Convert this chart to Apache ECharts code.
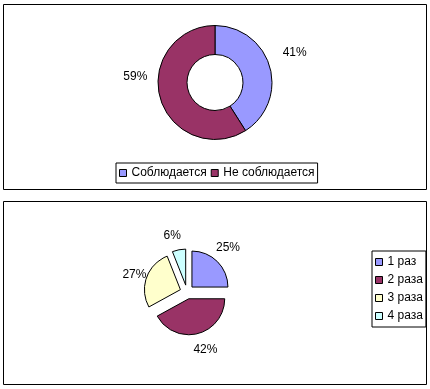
<!DOCTYPE html>
<html><head><meta charset="utf-8">
<script src="https://cdn.jsdelivr.net/npm/echarts@6/dist/echarts.min.js"></script>
<style>html,body{margin:0;padding:0;background:#fff}#c{width:430px;height:389px}</style>
</head><body><div id="c"></div>
<script>
// ---- data ----
const complianceCategories = ['Соблюдается', 'Не соблюдается'];
const complianceValues = [41, 59];
const frequencyCategories = ['1 раз', '2 раза', '3 раза', '4 раза'];
const frequencyValues = [25, 42, 27, 6];

// ---- styles ----
const complianceColors = ['#9999FF', '#993366'];
const frequencyColors = ['#9999FF', '#993366', '#FFFFCC', '#CCFFFF'];
const complianceLabelNudge = [[0, -7], [0, -29]];
const frequencyLabelNudge = [[0, -3], [4, 2], [2, 2], [-4, 1]];
const FONT = '"Liberation Sans", Arial, sans-serif';

const chart = echarts.init(document.getElementById('c'), null, {renderer: 'canvas'});

function nudge(arr) {
  return function (params) {
    const n = arr[params.dataIndex] || [0, 0];
    return {dx: n[0], dy: n[1], align: 'center', verticalAlign: 'middle'};
  };
}

const option = {
  animation: false,
  backgroundColor: '#fff',
  textStyle: {fontFamily: FONT, fontSize: 12, color: '#000'},
  graphic: [
    {type: 'rect', shape: {x: 3.5, y: 4.5, width: 423, height: 185}, style: {fill: 'none', stroke: '#000', lineWidth: 1}, silent: true},
    {type: 'rect', shape: {x: 3.5, y: 201.5, width: 423, height: 183}, style: {fill: 'none', stroke: '#000', lineWidth: 1}, silent: true}
  ],
  legend: [
    {
      data: complianceCategories,
      left: 116, top: 163,
      orient: 'horizontal',
      icon: 'rect', itemWidth: 7, itemHeight: 7, itemGap: 4,
      padding: [4, 3],
      borderColor: '#000', borderWidth: 1,
      selectedMode: false,
      textStyle: {fontFamily: FONT, fontSize: 12, color: '#000'},
      itemStyle: {borderColor: '#000', borderWidth: 1}
    },
    {
      data: frequencyCategories,
      left: 372, top: 251,
      orient: 'vertical',
      icon: 'rect', itemWidth: 7, itemHeight: 7, itemGap: 6,
      padding: [5, 3],
      borderColor: '#000', borderWidth: 1,
      selectedMode: false,
      textStyle: {fontFamily: FONT, fontSize: 12, color: '#000'},
      itemStyle: {borderColor: '#000', borderWidth: 1}
    }
  ],
  series: [
    {
      type: 'pie',
      center: [215, 82.5],
      radius: [28, 57],
      startAngle: 90,
      clockwise: true,
      avoidLabelOverlap: false,
      emphasis: {disabled: true},
      itemStyle: {borderColor: '#000', borderWidth: 1},
      label: {
        show: true, position: 'outside', formatter: '{c}%',
        fontFamily: FONT, fontSize: 12, color: '#000',
        distanceToLabelLine: 0
      },
      labelLine: {show: false, length: 26, length2: 0},
      labelLayout: nudge(complianceLabelNudge),
      data: complianceCategories.map((n, i) => ({
        name: n, value: complianceValues[i], itemStyle: {color: complianceColors[i]}
      }))
    },
    {
      type: 'pie',
      center: [187, 292],
      radius: [0, 36],
      startAngle: 90,
      clockwise: true,
      avoidLabelOverlap: false,
      selectedMode: 'multiple',
      selectedOffset: 7,
      emphasis: {disabled: true},
      itemStyle: {borderColor: '#000', borderWidth: 1},
      label: {
        show: true, position: 'outside', formatter: '{c}%',
        fontFamily: FONT, fontSize: 12, color: '#000',
        distanceToLabelLine: 0
      },
      labelLine: {show: false, length: 15, length2: 0},
      labelLayout: nudge(frequencyLabelNudge),
      data: frequencyCategories.map((n, i) => ({
        name: n, value: frequencyValues[i], selected: true, itemStyle: {color: frequencyColors[i]}
      }))
    }
  ]
};
chart.setOption(option);
</script>
</body></html>
